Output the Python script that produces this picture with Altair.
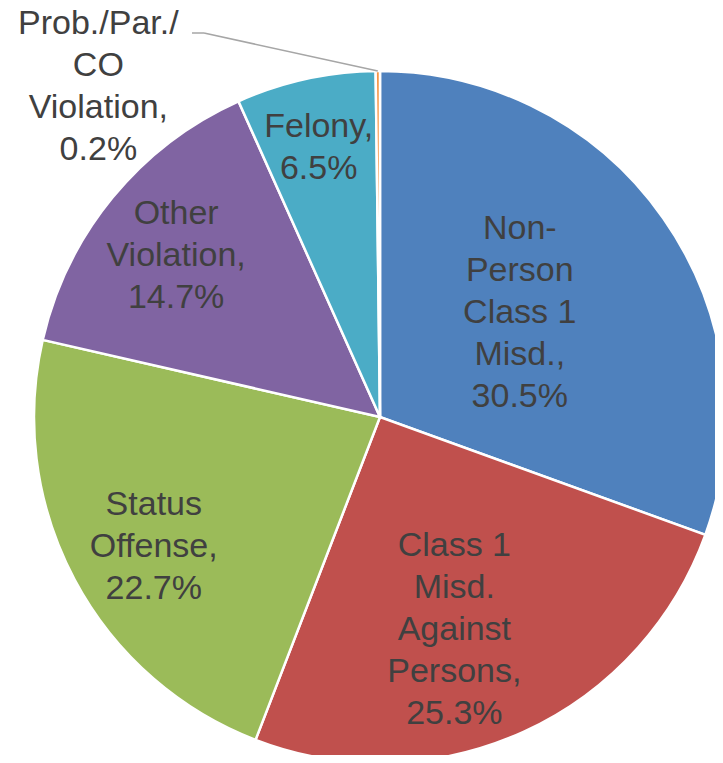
import altair as alt
import pandas as pd

# ---- data ----
categories = [
    "Non-Person Class 1 Misd.",
    "Class 1 Misd. Against Persons",
    "Status Offense",
    "Other Violation",
    "Felony",
    "Prob./Par./CO Violation",
]
values = [30.5, 25.3, 22.7, 14.7, 6.5, 0.2]
label_lines = [
    ["Non-", "Person", "Class 1", "Misd.,", "30.5%"],
    ["Class 1", "Misd.", "Against", "Persons,", "25.3%"],
    ["Status", "Offense,", "22.7%"],
    ["Other", "Violation,", "14.7%"],
    ["Felony,", "6.5%"],
    ["Prob./Par./", "CO", "Violation,", "0.2%"],
]
colors = ["#4F81BD", "#C0504D", "#9BBB59", "#8064A2", "#4BACC6", "#F79646"]

# ---- layout (not data) ----
W, H = 707, 747
CX, CY = 372, 409
R = 346
LH = 42
label_radius = [174, 226, 261, 260, 276, 434]
label_nudge_deg = [-1.5, 5.3, -1.9, -1.0, -0.4, -40.1]

df = pd.DataFrame({
    "category": categories,
    "value": values,
    "order": list(range(len(categories))),
    "lines": label_lines,
    "nlines": [len(l) for l in label_lines],
    "lr": label_radius,
    "nudge": label_nudge_deg,
})

base = alt.Chart(df)

pie = base.mark_arc(outerRadius=R, stroke="white", strokeWidth=2.5).encode(
    theta=alt.Theta("value:Q", stack=True),
    color=alt.Color("category:N", scale=alt.Scale(domain=categories, range=colors), legend=None),
    order=alt.Order("order:Q"),
    x=alt.value(CX),
    y=alt.value(CY),
)

geo = base.transform_window(
    cum="sum(value)", sort=[alt.SortField("order")], frame=[None, 0]
).transform_joinaggregate(
    total="sum(value)"
).transform_calculate(
    mid="(datum.cum - datum.value/2)/datum.total*2*PI",
)

labels = geo.transform_calculate(
    ang="datum.mid + datum.nudge*PI/180",
).transform_calculate(
    lx=f"{CX} + datum.lr*sin(datum.ang)",
    ly=f"{CY} - datum.lr*cos(datum.ang) - (datum.nlines - 1)/2*{LH}",
).mark_text(
    font="Liberation Sans", fontSize=34, color="#404040",
    align="center", baseline="middle", lineHeight=LH,
).encode(
    x=alt.X("lx:Q", scale=None, axis=None),
    y=alt.Y("ly:Q", scale=None, axis=None),
    text="lines",
)

leader = geo.transform_filter(
    "datum.order == 5"
).transform_calculate(
    ex=f"{CX} + {R}*sin(datum.mid)",
    ey=f"{CY} - {R}*cos(datum.mid)",
).mark_rule(color="#A6A6A6", strokeWidth=1.5).encode(
    x=alt.X("ex:Q", scale=None, axis=None),
    y=alt.Y("ey:Q", scale=None, axis=None),
    x2=alt.value(196),
    y2=alt.value(25),
)
leader2 = base.transform_filter("datum.order == 5").mark_rule(
    color="#A6A6A6", strokeWidth=1.5
).encode(x=alt.value(184), x2=alt.value(196), y=alt.value(25))

chart = alt.layer(pie, leader, leader2, labels).properties(
    width=W, height=H, padding=0, autosize=alt.AutoSizeParams(type="none")
).configure_view(stroke=None)

chart.save("out.html", embed_options={"renderer": "svg", "actions": False})
